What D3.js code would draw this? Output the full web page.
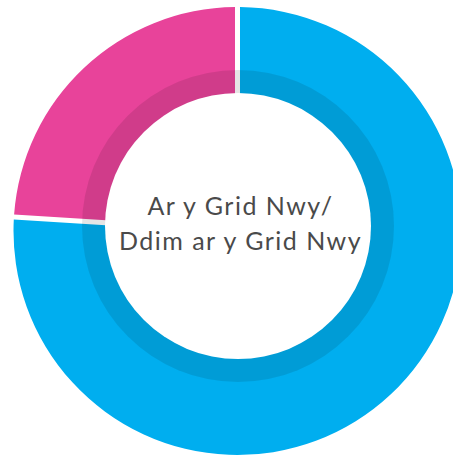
<!DOCTYPE html>
<html>
<head>
<meta charset="utf-8">
<script src="https://cdn.jsdelivr.net/npm/d3@7"></script>
<style>
html,body{margin:0;padding:0;background:#fff;overflow:hidden;}
</style>
</head>
<body>
<svg id="chart" width="453" height="458"></svg>
<script>
const categories = ["Ar y Grid Nwy", "Ddim ar y Grid Nwy"];
const values = [24, 76];
const colors = ["#E8439A", "#00AEEF"];
const centerLines = ["Ar y Grid Nwy/", "Ddim ar y Grid Nwy"];

const svg = d3.select("#chart");
const cx = 237.5, cy = 231, outerR = 224;

const data = categories.map((c, i) => ({ cat: c, value: values[i], color: colors[i] }));

// pink goes counter-clockwise from 12 o'clock: start at the pink end
const pie = d3.pie().value(d => d.value).sort(null)
  .startAngle(-2 * Math.PI * values[0] / d3.sum(values))
  .endAngle(2 * Math.PI - 2 * Math.PI * values[0] / d3.sum(values));

const arc = d3.arc().innerRadius(100).outerRadius(outerR)
  .padRadius(outerR).padAngle(5 / outerR);

const g = svg.append("g").attr("transform", `translate(${cx},${cy})`);
g.selectAll("path").data(pie(data)).join("path")
  .attr("d", arc)
  .attr("fill", d => d.data.color);

// inner shadow ring + white hole
const ix = 238, iy = 226;
svg.append("circle").attr("cx", ix).attr("cy", iy).attr("r", 156)
  .attr("fill", "rgba(0,0,0,0.1)");
svg.append("circle").attr("cx", ix).attr("cy", iy).attr("r", 133)
  .attr("fill", "#fff");

const t = svg.append("text")
  .attr("x", 239.5)
  .attr("text-anchor", "middle")
  .attr("fill", "#4a4a4a")
  .style("font-family", "Lato, 'Open Sans', sans-serif")
  .style("font-size", "25px")
  .style("letter-spacing", "1.5px");
t.selectAll("tspan").data(centerLines).join("tspan")
  .attr("x", 240.5)
  .attr("y", (d, i) => 215 + i * 35)
  .text(d => d);
</script>
</body>
</html>
